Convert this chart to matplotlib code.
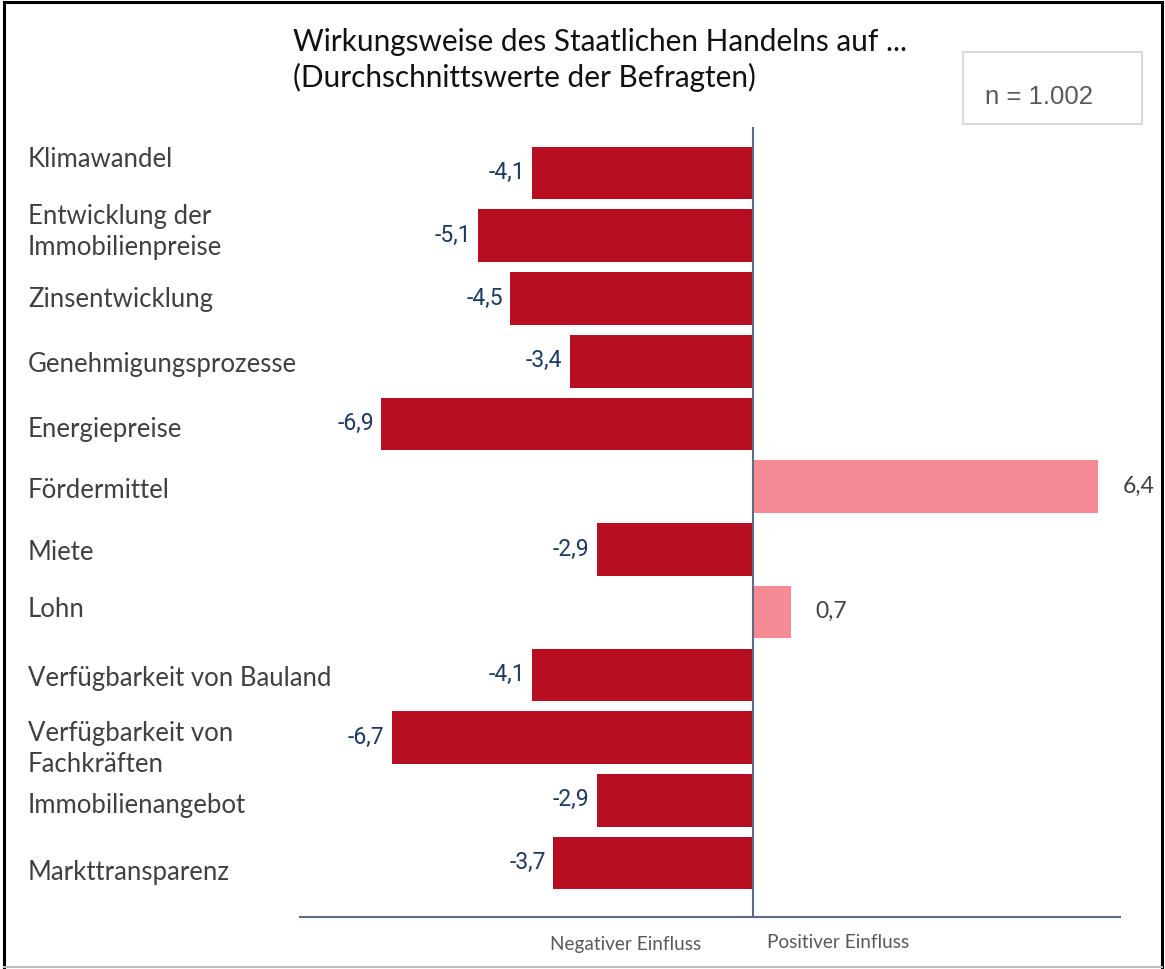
import matplotlib
matplotlib.use('Agg')
import matplotlib.pyplot as plt
from matplotlib.patches import Rectangle
from matplotlib.lines import Line2D
import matplotlib.transforms as mtransforms

# Daten
categories = [
    'Klimawandel',
    'Entwicklung der\nImmobilienpreise',
    'Zinsentwicklung',
    'Genehmigungsprozesse',
    'Energiepreise',
    'Fördermittel',
    'Miete',
    'Lohn',
    'Verfügbarkeit von Bauland',
    'Verfügbarkeit von\nFachkräften',
    'Immobilienangebot',
    'Markttransparenz',
]
values = [-4.1, -5.1, -4.5, -3.4, -6.9, 6.4, -2.9, 0.7, -4.1, -6.7, -2.9, -3.7]
title_lines = ['Wirkungsweise des Staatlichen Handelns auf ...',
               '(Durchschnittswerte der Befragten)']
n_text = 'n = 1.002'
axis_labels = ['Negativer Einfluss', 'Positiver Einfluss']

# Layout: vertikaler Versatz der Kategorietexte in Pixeln (positiv = nach oben)
label_shift_px = [14, 5, 0, -2, -5, -3, -2, 4, -3, -10, -4, -8]

NEG_COLOR = '#B70E22'
POS_COLOR = '#F58A95'
AXIS_COLOR = '#5B6B82'
LABEL_FONT = 'Lato'

W, H = 1165, 970
fig = plt.figure(figsize=(W / 100, H / 100), dpi=100)
fig.patch.set_facecolor('white')

ax = fig.add_axes([300 / W, 1 - 918 / H, 820 / W, 790 / H])
ypos = list(range(len(categories)))
colors = [NEG_COLOR if v < 0 else POS_COLOR for v in values]
ax.barh(ypos, values, height=0.84, color=colors, edgecolor='none', zorder=2)

ax.set_xlim(-8.40, 6.81)
ax.set_ylim(11.86, -0.733)
ax.axvline(0, color=AXIS_COLOR, linewidth=1.5, zorder=3)
for s in ['top', 'right', 'left']:
    ax.spines[s].set_visible(False)
ax.spines['bottom'].set_color(AXIS_COLOR)
ax.spines['bottom'].set_linewidth(1.5)
ax.set_xticks([])
ax.set_yticks([])

# Kategorien links
lab_trans = mtransforms.blended_transform_factory(fig.transFigure, ax.transData)
for y, cat, dy in zip(ypos, categories, label_shift_px):
    t = lab_trans + mtransforms.ScaledTranslation(0, dy / 100, fig.dpi_scale_trans)
    ax.text(28 / W, y, cat, transform=t, ha='left', va='center',
            fontsize=18.5, family=LABEL_FONT, color='#404040', linespacing=1.3)

# Werte
for y, v in zip(ypos, values):
    txt = f'{v:.1f}'.replace('.', ',')
    if v < 0:
        ax.annotate(txt, (v, y), xytext=(-5, 1), textcoords='offset points',
                    ha='right', va='center', fontsize=16.5,
                    family='Roboto', color='#1F3864')
    else:
        ax.annotate(txt, (v, y), xytext=(18, 1), textcoords='offset points',
                    ha='left', va='center', fontsize=16.5,
                    family=LABEL_FONT, color='#404040')

# Achsenbeschriftung unten
fig.text(626 / W, 1 - 945 / H, axis_labels[0], ha='center', va='center',
         fontsize=13.7, family=LABEL_FONT, color='#595959')
fig.text(838 / W, 1 - 943 / H, axis_labels[1], ha='center', va='center',
         fontsize=13.7, family=LABEL_FONT, color='#595959')

# Titel
fig.text(293 / W, 1 - 42 / H, title_lines[0], ha='left', va='center',
         fontsize=21.4, family=LABEL_FONT, color='#111111')
fig.text(293 / W, 1 - 77 / H, title_lines[1], ha='left', va='center',
         fontsize=21.4, family=LABEL_FONT, color='#111111')

# n-Box
fig.add_artist(Rectangle((963 / W, 1 - 125 / H), 179 / W, 72 / H,
                         transform=fig.transFigure, facecolor='white',
                         edgecolor='#D9D9D9', linewidth=1.5))
fig.text(985 / W, 1 - 97 / H, n_text, ha='left', va='center',
         fontsize=18.5, family='Liberation Sans', color='#595959')

# Rahmen
fig.add_artist(Line2D([4 / W, 1162 / W], [1 - 3 / H, 1 - 3 / H], color='black', lw=2.2))
fig.add_artist(Line2D([4 / W, 4 / W], [1 - 3 / H, 1 - 968 / H], color='black', lw=2.2))
fig.add_artist(Line2D([1162 / W, 1162 / W], [1 - 3 / H, 1 - 968 / H], color='black', lw=2.2))
fig.add_artist(Line2D([4 / W, 1162 / W], [1 - 968 / H, 1 - 968 / H], color='#BBBBBB', lw=1.5))

fig.savefig('out.png', dpi=100)
